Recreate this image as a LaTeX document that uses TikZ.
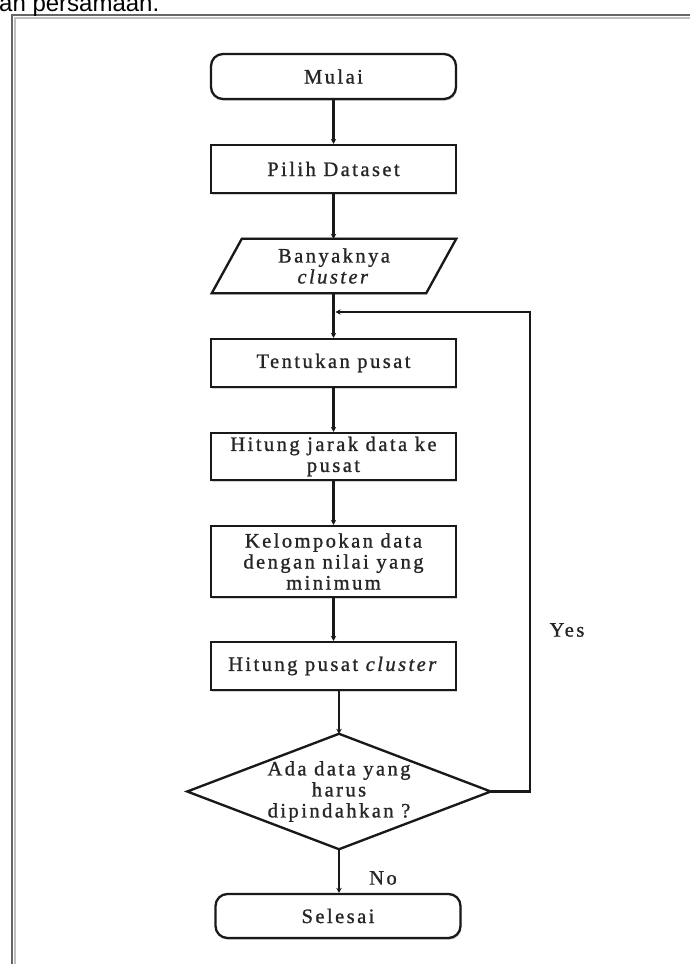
\documentclass[tikz,border=0pt]{standalone}
\usepackage{fontspec}
\setmainfont{Liberation Serif}
\newfontfamily\flowfont[LetterSpace=12,FakeBold=1]{Liberation Serif}
\newfontfamily\capfont{Liberation Sans}
\usetikzlibrary{arrows.meta,calc,shadows}
\begin{document}
\begin{tikzpicture}[x=1pt,y=-1pt,
  txt/.style={font=\flowfont\fontsize{20.5}{21}\selectfont, text=black!85, align=center},
  boxnode/.style={txt, draw=black!90, line width=2.3, fill=white, minimum width=245pt, inner sep=0pt,
    drop shadow={shadow xshift=1pt, shadow yshift=-1.8pt, opacity=0.35}},
  termnode/.style={boxnode, rounded corners=12pt},
  plain/.style={txt, inner sep=0pt},
  link/.style={line width=2.3, draw=black!90, -{Stealth[length=5pt,width=5.5pt]}},
  frameline/.style={line width=2.6, draw=black!60}]
\useasboundingbox (0,0) rectangle (690,964);
% page frame and cut-off caption
\draw[line width=1.6, draw=black!25] (14.8,964) -- (14.8,17.8) -- (690,17.8);
\draw[frameline] (12,964) -- (12,15) -- (690,15);
\node[anchor=base west, inner sep=0pt, font=\capfont\fontsize{24}{26}\selectfont] (cap) at (-1,11) {an persamaan.};
% nodes
\node[termnode, minimum height=45pt] (start) at (333.5,76.5) {Mulai};
\node[boxnode, minimum height=48pt] (pilih) at (333.5,169) {Pilih Dataset};
\node[plain, minimum width=244pt, minimum height=54pt] (para) at (334,266) {};
\node[boxnode, minimum height=48pt] (tentu) at (333.5,363) {Tentukan pusat};
\node[boxnode, minimum height=47pt] (jarak) at (333.5,456.5) {Hitung jarak data ke\\pusat};
\node[boxnode, minimum height=71pt] (kelom) at (333.5,561.5) {Kelompokan data\\dengan nilai yang\\minimum};
\node[boxnode, minimum height=48pt] (hpc) at (333.5,666) {Hitung pusat \textit{cluster}};
\node[plain, minimum width=303pt, minimum height=115pt] (dec) at (339,791.5) {};
\node[termnode, minimum height=44pt] (end) at (338,916) {Selesai};
\node[plain] (yes) at (567,630) {Yes};
\node[plain] (no) at (383,878) {No};
% parallelogram and diamond outlines
\draw[line width=2.3, draw=black!30, shift={(1,1.8)}] ($(para.north west)+(30,0)$) -- (para.north east) -- ($(para.south east)-(30,0)$) -- (para.south west) -- cycle;
\draw[line width=2.3, draw=black!90, fill=white] ($(para.north west)+(30,0)$) -- (para.north east) -- ($(para.south east)-(30,0)$) -- (para.south west) -- cycle;
\node[plain] (paratext) at (para.center) {Banyaknya\\\textit{cluster}};
\draw[line width=2.3, draw=black!30, shift={(1,1.8)}] (dec.north) -- (dec.east) -- (dec.south) -- (dec.west) -- cycle;
\draw[line width=2.3, draw=black!90, fill=white] (dec.north) -- (dec.east) -- (dec.south) -- (dec.west) -- cycle;
\node[plain] (dectext) at (dec.center) {Ada data yang\\harus\\dipindahkan ?};
% connectors
\draw[link] (start.south) -- (pilih.north);
\draw[link] (pilih.south) -- (pilih.south |- para.north);
\draw[link] (pilih.south |- para.south) -- (tentu.north);
\draw[link] (tentu.south) -- (jarak.north);
\draw[link] (jarak.south) -- (kelom.north);
\draw[link] (kelom.south) -- (hpc.north);
\draw[link] (dec.north |- hpc.south) -- (dec.north);
\draw[link] (dec.south) -- (dec.south |- end.north);
\coordinate (loopr) at (530,312);
\coordinate (loopend) at (335.5,312);
\draw[link] (dec.east) -| (loopr) -- (loopend);
\end{tikzpicture}
\end{document}
